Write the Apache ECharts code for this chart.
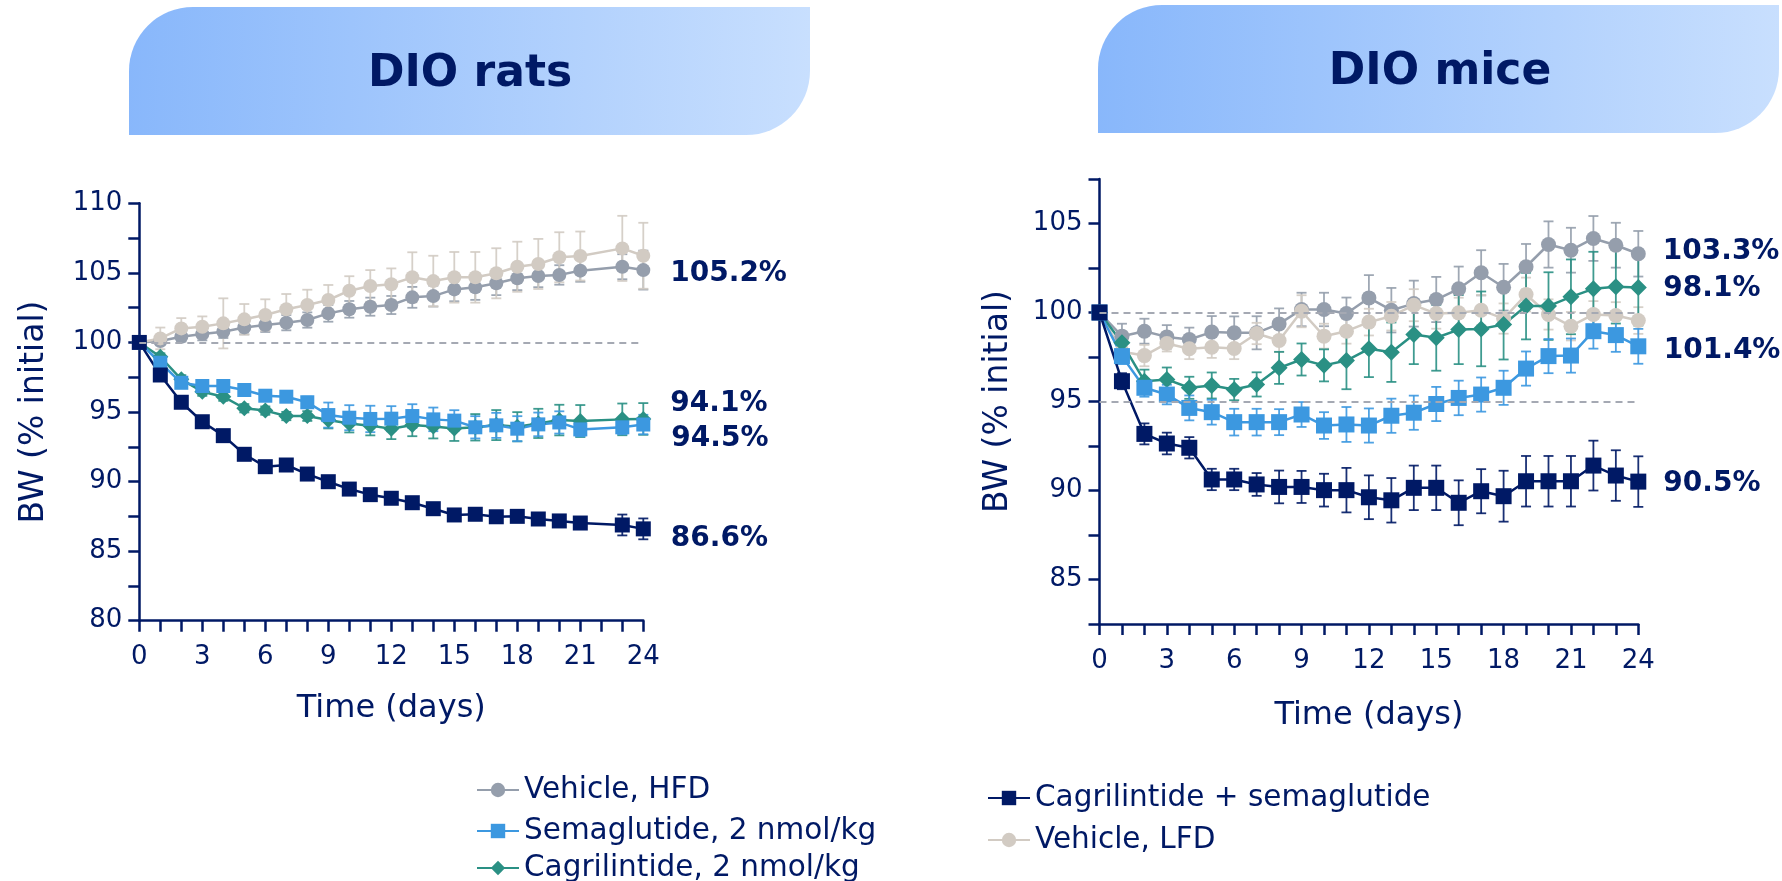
<!DOCTYPE html>
<html>
<head>
<meta charset="utf-8">
<title>Body weight in DIO rats and DIO mice</title>
<script src="https://cdn.jsdelivr.net/npm/echarts@6/dist/echarts.min.js"></script>
<style>
  html, body { margin: 0; padding: 0; background: #ffffff; }
  #chart { width: 1782px; height: 881px; }
</style>
</head>
<body>
<div id="chart"></div>
<script>
// ---- Data: body weight, % of initial (mean with SEM) ----
const ratDays = [0, 1, 2, 3, 4, 5, 6, 7, 8, 9, 10, 11, 12, 13, 14, 15, 16, 17, 18, 19, 20, 21, 23, 24];
const ratHFD      = [100, 100.1, 100.41, 100.6, 100.77, 101.08, 101.25, 101.42, 101.61, 102.09, 102.38, 102.57, 102.69, 103.24, 103.33, 103.81, 103.96, 104.25, 104.61, 104.77, 104.85, 105.16, 105.44, 105.2];
const ratHFDErr   = [0, 0.3, 0.35, 0.45, 0.45, 0.5, 0.5, 0.55, 0.55, 0.6, 0.6, 0.65, 0.65, 0.75, 0.75, 0.85, 0.9, 0.85, 0.85, 0.8, 0.7, 0.8, 0.9, 1.4];
const ratLFD      = [100, 100.29, 101.01, 101.13, 101.37, 101.66, 101.97, 102.38, 102.69, 103.05, 103.72, 104.06, 104.18, 104.68, 104.41, 104.68, 104.68, 104.97, 105.44, 105.64, 106.12, 106.21, 106.76, 106.23];
const ratLFDErr   = [0, 0.78, 0.74, 0.74, 1.8, 1.1, 1.13, 1.1, 1.1, 1.08, 1.04, 1.14, 1.14, 1.8, 1.82, 1.82, 1.82, 1.8, 1.8, 1.8, 1.8, 1.76, 2.34, 2.37];
const ratSema     = [100, 98.54, 97.1, 96.87, 96.87, 96.58, 96.17, 96.1, 95.7, 94.78, 94.59, 94.5, 94.52, 94.71, 94.47, 94.38, 93.9, 94.04, 93.8, 94.11, 94.25, 93.75, 93.9, 94.1];
const ratSemaErr  = [0, 0.3, 0.3, 0.3, 0.3, 0.3, 0.3, 0.35, 0.4, 0.9, 0.9, 0.95, 0.9, 0.85, 0.85, 0.75, 0.8, 0.9, 0.9, 0.85, 0.8, 0.5, 0.5, 0.7];
const ratCagri    = [100, 98.97, 97.35, 96.46, 96.1, 95.27, 95.1, 94.71, 94.71, 94.42, 94.18, 94.02, 93.8, 94.06, 93.95, 93.82, 93.9, 94.06, 93.94, 94.18, 94.42, 94.35, 94.47, 94.5];
const ratCagriErr = [0, 0.25, 0.3, 0.3, 0.3, 0.3, 0.3, 0.3, 0.35, 0.6, 0.65, 0.7, 0.75, 0.8, 0.85, 0.9, 0.95, 1.08, 1.05, 1.05, 1.1, 1.15, 1.14, 1.14];
const ratCombo    = [100, 97.66, 95.7, 94.3, 93.3, 91.96, 91.07, 91.19, 90.54, 89.99, 89.46, 89.06, 88.8, 88.48, 88.05, 87.6, 87.65, 87.47, 87.5, 87.31, 87.17, 87.02, 86.88, 86.6];
const ratComboErr = [0, 0.2, 0.2, 0.2, 0.25, 0.25, 0.25, 0.25, 0.25, 0.25, 0.25, 0.25, 0.25, 0.25, 0.25, 0.25, 0.25, 0.25, 0.25, 0.25, 0.25, 0.3, 0.75, 0.75];

const miceDays = [0, 1, 2, 3, 4, 5, 6, 7, 8, 9, 10, 11, 12, 13, 14, 15, 16, 17, 18, 19, 20, 21, 22, 23, 24];
const miceHFD      = [100, 98.67, 98.95, 98.63, 98.48, 98.9, 98.86, 98.86, 99.36, 100.17, 100.17, 99.94, 100.82, 100.13, 100.5, 100.73, 101.33, 102.23, 101.42, 102.57, 103.82, 103.5, 104.16, 103.78, 103.3];
const miceHFDErr   = [0, 0.7, 0.7, 0.66, 0.67, 0.9, 0.92, 0.93, 0.87, 0.94, 0.94, 0.9, 1.28, 1.25, 1.29, 1.27, 1.25, 1.27, 1.31, 1.28, 1.3, 1.26, 1.26, 1.26, 1.28];
const miceLFD      = [100, 97.8, 97.58, 98.26, 97.96, 98.05, 97.98, 98.82, 98.43, 100.07, 98.67, 98.95, 99.46, 99.79, 100.41, 99.94, 99.98, 100.13, 99.66, 101.01, 99.89, 99.23, 99.89, 99.83, 99.55];
const miceLFDErr   = [0, 0.5, 0.6, 0.45, 0.58, 0.6, 0.6, 0.6, 0.65, 0.9, 0.7, 0.7, 0.75, 0.8, 0.9, 0.85, 0.85, 0.85, 0.85, 0.95, 0.85, 0.8, 0.75, 0.75, 0.75];
const miceSema     = [100, 97.55, 95.77, 95.39, 94.64, 94.4, 93.84, 93.84, 93.84, 94.27, 93.65, 93.71, 93.65, 94.2, 94.37, 94.86, 95.2, 95.39, 95.77, 96.85, 97.55, 97.58, 98.95, 98.73, 98.1];
const miceSemaErr  = [0, 0.45, 0.5, 0.55, 0.7, 0.7, 0.75, 0.75, 0.73, 0.7, 0.75, 0.98, 0.96, 0.96, 0.96, 0.96, 0.97, 0.96, 0.96, 0.96, 0.96, 0.96, 0.98, 0.94, 0.98];
const miceCagri    = [100, 98.3, 96.14, 96.24, 95.77, 95.9, 95.67, 95.96, 96.89, 97.36, 97.03, 97.3, 97.96, 97.77, 98.76, 98.58, 99.04, 99.08, 99.33, 100.36, 100.36, 100.88, 101.33, 101.44, 101.4];
const miceCagriErr = [0, 0.3, 0.65, 0.67, 0.62, 0.73, 0.6, 0.68, 0.9, 0.9, 0.9, 1.61, 1.59, 1.67, 1.66, 1.85, 1.94, 2.1, 1.97, 1.87, 1.9, 2.1, 2.08, 2.06, 2.13];
const miceCombo    = [100, 96.14, 93.18, 92.64, 92.4, 90.62, 90.62, 90.34, 90.2, 90.2, 90.02, 90.02, 89.62, 89.45, 90.15, 90.15, 89.31, 89.96, 89.68, 90.52, 90.52, 90.52, 91.4, 90.84, 90.5];
const miceComboErr = [0, 0.45, 0.59, 0.61, 0.6, 0.6, 0.6, 0.64, 0.92, 0.9, 0.92, 1.25, 1.23, 1.25, 1.25, 1.25, 1.26, 1.24, 1.43, 1.42, 1.42, 1.42, 1.4, 1.42, 1.42];

const panelTitles = ['DIO rats', 'DIO mice'];
const groupNames = {
  hfd: 'Vehicle, HFD',
  sema: 'Semaglutide, 2 nmol/kg',
  cagri: 'Cagrilintide, 2 nmol/kg',
  combo: 'Cagrilintide + semaglutide',
  lfd: 'Vehicle, LFD'
};

// ---- Styling ----
const NAVY = '#001965';
const FONT = '"DejaVu Sans", Verdana, sans-serif';
const COLOR = { hfd: '#959eac', lfd: '#d2cbc3', sema: '#3c98e0', cagri: '#2a9084', combo: '#001965' };

function lineSeries(key, days, vals, idx, symbol, size, endLabel, extra) {
  const color = COLOR[key];
  const data = days.map((d, i) => [d, vals[i]]);
  if (endLabel) {
    const last = data.length - 1;
    data[last] = {
      value: data[last],
      label: {
        show: true, position: 'right', distance: endLabel.distance, offset: [0, endLabel.dy],
        formatter: p => p.value[1].toFixed(1) + '%',
        color: NAVY, fontFamily: FONT, fontWeight: 'bold', fontSize: 28
      }
    };
  }
  return Object.assign({
    type: 'line', name: groupNames[key], xAxisIndex: idx, yAxisIndex: idx,
    data, symbol, symbolSize: size, showSymbol: true, showAllSymbol: true,
    lineStyle: { color, width: 2.5 }, itemStyle: { color, opacity: 1 },
    emphasis: { disabled: true }, z: 3
  }, extra || {});
}

function errorSeries(key, days, vals, errs, idx) {
  const color = COLOR[key];
  return {
    type: 'custom', name: groupNames[key] + ' SEM', xAxisIndex: idx, yAxisIndex: idx,
    data: days.map((d, i) => [d, vals[i], errs[i]]),
    encode: { x: 0, y: 1 }, z: 2, silent: true,
    renderItem(params, api) {
      const x = api.value(0), y = api.value(1), e = api.value(2);
      if (!e) return null;
      const top = api.coord([x, y + e]);
      const bot = api.coord([x, y - e]);
      const hw = 5;
      const st = { stroke: color, lineWidth: 1.8, opacity: 0.9 };
      return {
        type: 'group',
        children: [
          { type: 'line', shape: { x1: top[0], y1: top[1], x2: bot[0], y2: bot[1] }, style: st },
          { type: 'line', shape: { x1: top[0] - hw, y1: top[1], x2: top[0] + hw, y2: top[1] }, style: st },
          { type: 'line', shape: { x1: bot[0] - hw, y1: bot[1], x2: bot[0] + hw, y2: bot[1] }, style: st }
        ]
      };
    }
  };
}

function refLines(values) {
  return {
    silent: true, symbol: 'none', label: { show: false },
    lineStyle: { color: '#a5a9b3', type: [7, 5], width: 2 },
    data: values.map(v => ({ yAxis: v }))
  };
}

function xAxis(gridIndex, nameGap) {
  return {
    type: 'value', gridIndex, min: 0, max: 24, interval: 1,
    axisLine: { lineStyle: { color: NAVY, width: 2.5 } },
    axisTick: { length: 11, lineStyle: { color: NAVY, width: 2.5 } },
    axisLabel: { formatter: v => (v % 3 === 0 ? String(v) : ''), color: NAVY, fontSize: 26, fontFamily: FONT, margin: 24 },
    splitLine: { show: false },
    name: 'Time (days)', nameLocation: 'middle', nameGap,
    nameTextStyle: { color: NAVY, fontSize: 32, fontFamily: FONT }
  };
}

function yAxis(gridIndex, min, max, nameGap) {
  return {
    type: 'value', gridIndex, min, max, interval: 2.5,
    axisLine: { show: true, lineStyle: { color: NAVY, width: 2.5 } },
    axisTick: { show: true, length: 11, lineStyle: { color: NAVY, width: 2.5 } },
    axisLabel: { formatter: v => (v % 5 === 0 ? String(v) : ''), color: NAVY, fontSize: 26, fontFamily: FONT, margin: 17 },
    splitLine: { show: false },
    name: 'BW (% initial)', nameLocation: 'middle', nameRotate: 90, nameGap,
    nameTextStyle: { color: NAVY, fontSize: 33, fontFamily: FONT }
  };
}

function header(x, y, w, h, title, cx, cy) {
  return {
    type: 'group',
    children: [
      {
        type: 'rect', shape: { x, y, width: w, height: h, r: [64, 0, 64, 0] },
        style: {
          fill: { type: 'linear', x: 0, y: 0, x2: 1, y2: 0.15,
            colorStops: [{ offset: 0, color: '#88b7fb' }, { offset: 1, color: '#c8dffe' }] }
        }
      },
      {
        type: 'text', x: cx, y: cy,
        style: { text: title, fill: NAVY, font: 'bold 44px ' + FONT,
          textAlign: 'center', textVerticalAlign: 'middle', align: 'center', verticalAlign: 'middle' }
      }
    ]
  };
}

const series = [
  // DIO rats
  errorSeries('hfd', ratDays, ratHFD, ratHFDErr, 0),
  errorSeries('lfd', ratDays, ratLFD, ratLFDErr, 0),
  errorSeries('cagri', ratDays, ratCagri, ratCagriErr, 0),
  errorSeries('sema', ratDays, ratSema, ratSemaErr, 0),
  errorSeries('combo', ratDays, ratCombo, ratComboErr, 0),
  lineSeries('hfd', ratDays, ratHFD, 0, 'circle', 14, { distance: 20, dy: 4 }, { markLine: refLines([100]) }),
  lineSeries('lfd', ratDays, ratLFD, 0, 'circle', 14, null),
  lineSeries('cagri', ratDays, ratCagri, 0, 'diamond', 16, { distance: 20, dy: 20 }),
  lineSeries('sema', ratDays, ratSema, 0, 'rect', 14, { distance: 20, dy: -21 }),
  lineSeries('combo', ratDays, ratCombo, 0, 'rect', 15, { distance: 20, dy: 10 }),
  // DIO mice
  errorSeries('hfd', miceDays, miceHFD, miceHFDErr, 1),
  errorSeries('lfd', miceDays, miceLFD, miceLFDErr, 1),
  errorSeries('cagri', miceDays, miceCagri, miceCagriErr, 1),
  errorSeries('sema', miceDays, miceSema, miceSemaErr, 1),
  errorSeries('combo', miceDays, miceCombo, miceComboErr, 1),
  lineSeries('hfd', miceDays, miceHFD, 1, 'circle', 15, { distance: 17, dy: -2 }, { markLine: refLines([100, 95]) }),
  lineSeries('lfd', miceDays, miceLFD, 1, 'circle', 15, null),
  lineSeries('cagri', miceDays, miceCagri, 1, 'diamond', 17, { distance: 17, dy: 63 }),
  lineSeries('sema', miceDays, miceSema, 1, 'rect', 16, { distance: 17, dy: -58 }),
  lineSeries('combo', miceDays, miceCombo, 1, 'rect', 16, { distance: 17, dy: 2 })
];

// One legend entry per group, laid out in two columns
const legendText = { color: NAVY, fontSize: 29.5, fontFamily: FONT };
function legendItem(key, left, top) {
  return {
    data: [groupNames[key]], orient: 'vertical', left, top, padding: 0,
    itemWidth: 42, itemHeight: 18, selectedMode: false,
    textStyle: legendText, lineStyle: { width: 2 }
  };
}

const option = {
  animation: false,
  backgroundColor: '#ffffff',
  grid: [
    { left: 139.3, top: 203.3, width: 504, height: 417.4 },
    { left: 1099.5, top: 179, width: 538.8, height: 445 }
  ],
  xAxis: [xAxis(0, 72), xAxis(1, 76)],
  yAxis: [yAxis(0, 80, 110, 88), yAxis(1, 82.5, 107.5, 85)],
  legend: [
    legendItem('hfd', 476, 775),
    legendItem('sema', 476, 816),
    legendItem('cagri', 476, 853),
    legendItem('combo', 987, 783),
    legendItem('lfd', 987, 825)
  ],
  graphic: [
    header(129, 7, 681, 128, panelTitles[0], 470, 75),
    header(1098, 5, 681, 128, panelTitles[1], 1440, 73)
  ],
  series
};

const chart = echarts.init(document.getElementById('chart'), null, { renderer: 'canvas' });
chart.setOption(option);
</script>
</body>
</html>
